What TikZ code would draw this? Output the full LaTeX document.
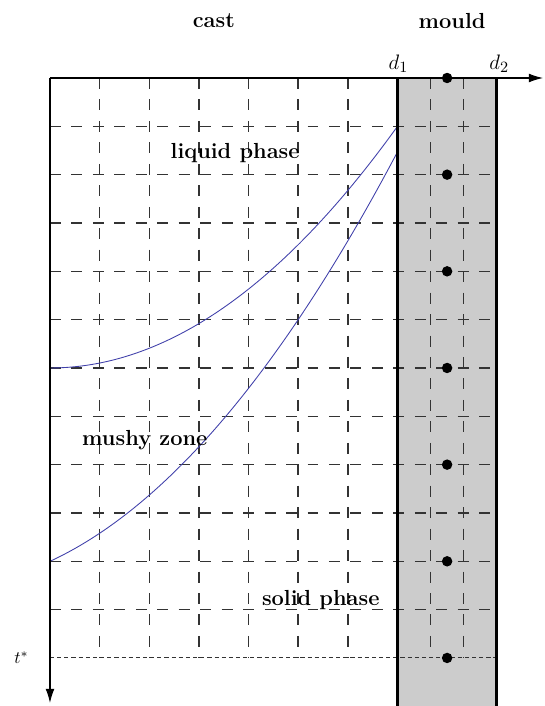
\documentclass[tikz,border=0pt]{standalone}
\usepackage{amsmath,amssymb}
\usepackage{tikz}
\usetikzlibrary{arrows.meta}

\definecolor{curvecol}{RGB}{64,64,170}
\tikzset{
  gridline/.style={black!80, line width=0.85pt, dash pattern=on 6.3pt off 6pt},
  tline/.style={black!80, line width=0.6pt, dash pattern=on 2.4pt off 1.7pt},
  mouldwall/.style={line width=1.7pt},
  front/.style={curvecol, line width=0.5pt},
  phase/.style={font=\fontsize{12.5}{15}\selectfont\bfseries},
  axisarrow/.style={line width=0.6pt, -{Latex[length=8pt,width=5pt]}}
}

\begin{document}
\begin{tikzpicture}[x=1cm,y=0.9736cm]
            \useasboundingbox (-1.007,1.614) rectangle (9.952,-12.994);
            % Các điểm chính
            \coordinate (O) at (0,0);
            \coordinate (D1) at (7,0);
            \coordinate (D2) at (9,0);
            \coordinate (D1b) at (7,-13);
            \coordinate (D2b) at (9,-13);
            \coordinate (X) at (9.93,0);
            \coordinate (T) at (0,-12.93);
            % Tô khuôn
            \fill[black!20] (D1) rectangle (D2b);
            % Lưới ngang
            \foreach \j in {1,...,11}
              \draw[gridline] (0,-\j) -- (9,-\j);
            % Lưới dọc
            \foreach \i in {1,...,6}
              \draw[gridline] (\i,0) -- (\i,-12);
            \draw[gridline] (7+2/3,0) -- (7+2/3,-12);
            \draw[gridline] (7+4/3,0) -- (7+4/3,-12);
            % Đường t*
            \draw[tline] (0,-12) -- (9,-12);
            % Hai đường biên pha
            \coordinate (L0) at (0,-6);
            \coordinate (L1) at (7,-1);
            \coordinate (S0) at (0,-10);
            \coordinate (S1) at (7,-1.53);
            \draw[front] (L0) .. controls (2.333,-6) and (4.667,-4.333) .. (L1);
            \draw[front] (S0) .. controls (2.333,-8.892) and (4.667,-6.068) .. (S1);
            % Thành khuôn
            \draw[mouldwall] (D1) -- (D1b);
            \draw[mouldwall] (D2) -- (D2b);
            % Trục
            \draw[axisarrow] (O) -- (X);
            \draw[axisarrow] (O) -- (T);
            % Các điểm
            \fill (8,0) circle (3pt);
            \fill (8,-2) circle (3pt);
            \fill (8,-4) circle (3pt);
            \fill (8,-6) circle (3pt);
            \fill (8,-8) circle (3pt);
            \fill (8,-10) circle (3pt);
            \fill (8,-12) circle (3pt);
            % Nhãn
            \node[phase] (cast) at (3.30,1.18) {cast};
            \node[phase] (mould) at (8.10,1.18) {mould};
            \node[font=\fontsize{13}{15}\selectfont] (d1) at (7.02,0.29) {$d_1$};
            \node[font=\fontsize{13}{15}\selectfont] (d2) at (9.05,0.29) {$d_2$};
            \node (tstar) at (-0.575,-12) {$t^*$};
            \node[phase] (liquid) at (3.73,-1.55) {liquid phase};
            \node[phase] (mushy) at (1.91,-7.49) {mushy zone};
            \node[phase] (solid) at (5.455,-10.80) {solid phase};
        \end{tikzpicture}
\end{document}
